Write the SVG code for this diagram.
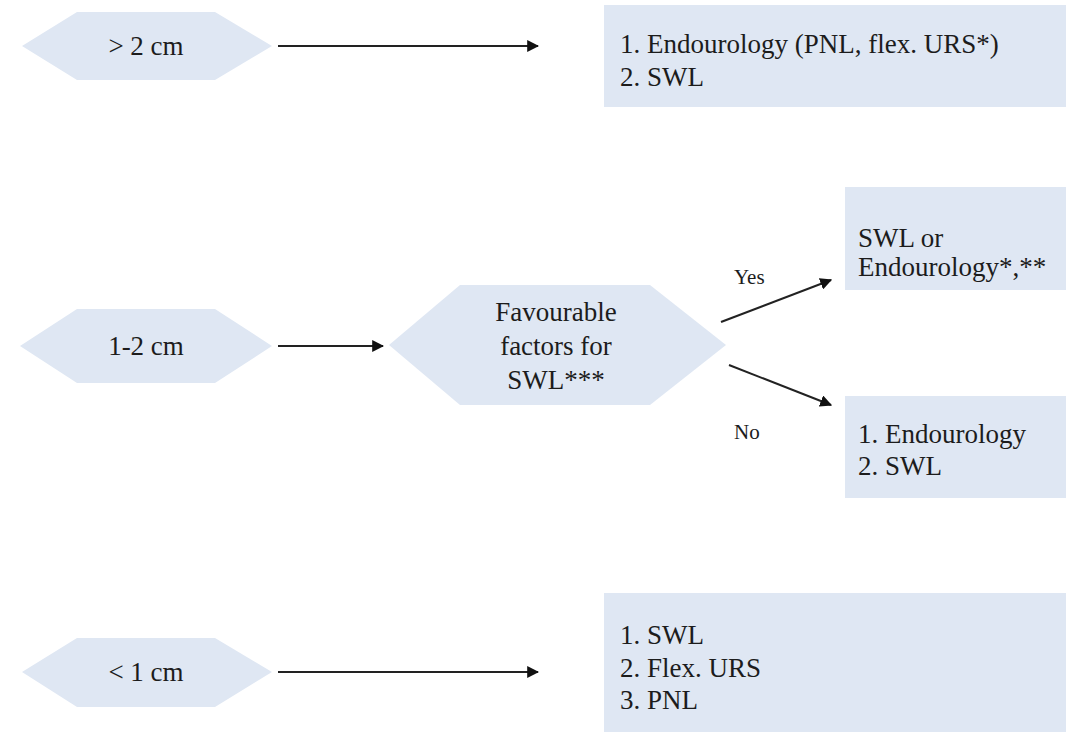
<svg xmlns="http://www.w3.org/2000/svg" width="1074" height="732" viewBox="0 0 1074 732">
<style>
.shape{fill:#dfe7f3;stroke:none}
.t{font-family:"Liberation Serif","Times New Roman",serif;font-size:27px;fill:#1c1c1c}
.c{text-anchor:middle}
.s{font-family:"Liberation Serif","Times New Roman",serif;font-size:21px;fill:#1c1c1c}
.ln{stroke:#222;stroke-width:2;fill:none;marker-end:url(#ah)}
</style>
<defs>
<marker id="ah" viewBox="0 0 10 10" refX="9" refY="5" markerWidth="6" markerHeight="6" orient="auto" markerUnits="strokeWidth">
<path d="M0,0 L10,5 L0,10 z" fill="#111"/>
</marker>
</defs>
<rect width="1074" height="732" fill="#ffffff"/>
<g id="hex-gt2">
<polygon class="shape" points="22,46 77,12 215,12 272,46 215,80 77,80"/>
<text class="t c" x="146" y="55">&gt; 2 cm</text>
</g>
<g id="box-gt2">
<rect class="shape" x="604" y="5" width="462" height="102"/>
<text class="t" x="620" y="53">1. Endourology (PNL, flex. URS*)</text>
<text class="t" x="620" y="86">2. SWL</text>
</g>
<g id="hex-1to2">
<polygon class="shape" points="20,346 77,309 215,309 272,346 215,383 77,383"/>
<text class="t c" x="146" y="355">1-2 cm</text>
</g>
<g id="hex-fav">
<polygon class="shape" points="389,345 460,285 650,285 726,345 650,405 460,405"/>
<text class="t c" x="556" y="321">Favourable</text>
<text class="t c" x="556" y="355">factors for</text>
<text class="t c" x="556" y="389">SWL***</text>
</g>
<g id="box-yes">
<rect class="shape" x="845" y="187" width="221" height="103"/>
<text class="t" x="858" y="247">SWL or</text>
<text class="t" x="858" y="276">Endourology*,**</text>
</g>
<g id="box-no">
<rect class="shape" x="845" y="396" width="221" height="102"/>
<text class="t" x="858" y="443">1. Endourology</text>
<text class="t" x="858" y="475">2. SWL</text>
</g>
<g id="hex-lt1">
<polygon class="shape" points="22,672 77,638 215,638 272,672 215,707 77,707"/>
<text class="t c" x="146" y="681">&lt; 1 cm</text>
</g>
<g id="box-lt1">
<rect class="shape" x="604" y="593" width="462" height="139"/>
<text class="t" x="620" y="644">1. SWL</text>
<text class="t" x="620" y="677">2. Flex. URS</text>
<text class="t" x="620" y="709">3. PNL</text>
</g>
<g id="connectors">
<line class="ln" x1="278" y1="46" x2="538" y2="46"/>
<line class="ln" x1="278" y1="346" x2="383" y2="346"/>
<line class="ln" x1="721" y1="322" x2="831" y2="280"/>
<line class="ln" x1="729" y1="365" x2="831" y2="405"/>
<line class="ln" x1="278" y1="672" x2="538" y2="672"/>
<text class="s" x="734" y="284">Yes</text>
<text class="s" x="734" y="439">No</text>
</g>
</svg>
